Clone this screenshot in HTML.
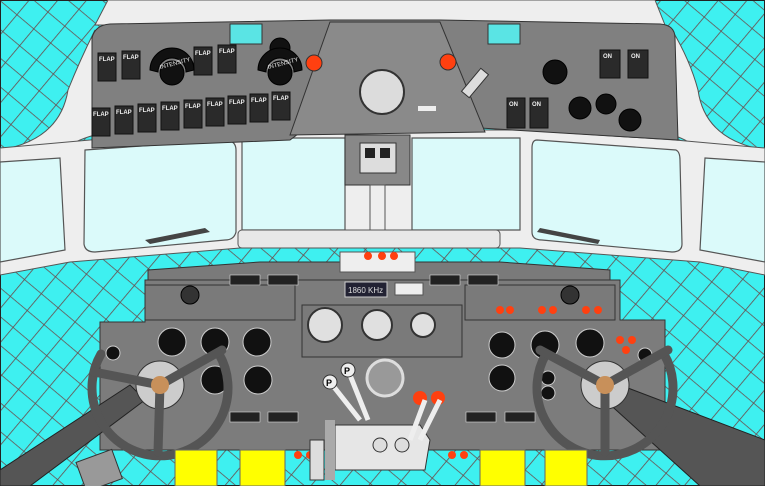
<!DOCTYPE html><html><head><style>html,body{margin:0;padding:0;background:#fff}svg{display:block}</style></head><body>
<svg width="765" height="486" viewBox="0 0 765 486" xmlns="http://www.w3.org/2000/svg" font-family="Liberation Sans, sans-serif">
<defs>
<pattern id="net" width="22" height="22" patternUnits="userSpaceOnUse" patternTransform="rotate(40)">
<rect width="22" height="22" fill="#3ef0f0"/>
<path d="M0 0H22M0 0V22" stroke="#6b4a4a" stroke-width="1.6" fill="none"/>
</pattern>
</defs>
<rect width="765" height="486" fill="url(#net)"/>
<rect x="0" y="0" width="765" height="486" fill="none" stroke="#222" stroke-width="2"/>
<path d="M108 0H655 L665 25 H95 Z" fill="#eeeeee" stroke="#555"/>
<path d="M0 150 L60 152 Q75 140 95 135 L95 30 Q80 60 68 90 Q60 140 0 150Z" fill="#eeeeee" stroke="#555"/>
<path d="M765 150 L700 152 Q690 140 672 135 L672 30 Q690 60 698 90 Q705 140 765 150Z" fill="#eeeeee" stroke="#555"/>
<path d="M0 148 L90 140 L240 130 L520 130 L675 140 L765 148 L765 275 L700 262 L520 248 L240 248 L70 262 L0 275Z" fill="#eeeeee" stroke="#555"/>
<g fill="#dbfafa" stroke="#555" stroke-width="1.2">
<path d="M0 162 L60 158 L65 250 L0 262Z"/>
<path d="M85 150 L228 140 Q236 142 236 150 L236 232 Q234 240 225 240 L95 252 Q85 252 84 244Z"/>
<path d="M242 138 L345 138 L345 230 L242 230 Z" />
<path d="M412 138 L520 138 L520 230 L412 230Z"/>
<path d="M537 140 L676 150 Q680 152 680 160 L682 244 Q682 252 672 252 L542 240 Q532 240 532 232 L532 148 Q532 140 537 140Z"/>
<path d="M705 158 L765 162 L765 262 L700 250Z"/>
</g>
<path d="M92 38 Q95 25 110 24 L330 20 L440 20 L660 24 Q675 25 675 38 L678 140 L480 128 L450 110 L330 110 L290 140 L92 148Z" fill="#808080" stroke="#333"/>
<path d="M290 135 L330 22 L440 22 L485 132 Z" fill="#8a8a8a" stroke="#333"/>
<rect x="230" y="24" width="32" height="20" fill="#5ae4e4" stroke="#333"/>
<rect x="488" y="24" width="32" height="20" fill="#5ae4e4" stroke="#333"/>
<circle cx="382" cy="92" r="22" fill="#dcdcdc" stroke="#333" stroke-width="2"/>
<circle cx="314" cy="63" r="8" fill="#ff4010" stroke="#333"/>
<circle cx="448" cy="62" r="8" fill="#ff4010" stroke="#333"/>
<rect x="470" y="68" width="10" height="30" fill="#ddd" stroke="#333" transform="rotate(40 475 83)"/>
<rect x="418" y="106" width="18" height="5" fill="#eee"/>
<g fill="#2a2a2a" stroke="#111">
<rect x="98" y="53" width="18" height="28"/><rect x="122" y="51" width="18" height="28"/>
<rect x="194" y="47" width="18" height="28"/><rect x="218" y="45" width="18" height="28"/>
<rect x="92" y="108" width="18" height="28"/><rect x="115" y="106" width="18" height="28"/>
<rect x="138" y="104" width="18" height="28"/><rect x="161" y="102" width="18" height="28"/>
<rect x="184" y="100" width="18" height="28"/><rect x="206" y="98" width="18" height="28"/>
<rect x="228" y="96" width="18" height="28"/><rect x="250" y="94" width="18" height="28"/>
<rect x="272" y="92" width="18" height="28"/>
<rect x="507" y="98" width="18" height="30"/><rect x="530" y="98" width="18" height="30"/>
<rect x="600" y="50" width="20" height="28"/><rect x="628" y="50" width="20" height="28"/>
</g>
<g font-size="6" fill="#eee" font-weight="bold">
<text x="99" y="61">FLAP</text><text x="123" y="59">FLAP</text><text x="195" y="55">FLAP</text><text x="219" y="53">FLAP</text>
<text x="93" y="116">FLAP</text><text x="116" y="114">FLAP</text><text x="139" y="112">FLAP</text><text x="162" y="110">FLAP</text><text x="185" y="108">FLAP</text><text x="207" y="106">FLAP</text><text x="229" y="104">FLAP</text><text x="251" y="102">FLAP</text><text x="273" y="100">FLAP</text>
<text x="509" y="106">ON</text><text x="532" y="106">ON</text><text x="603" y="58">ON</text><text x="631" y="58">ON</text>
</g>
<g fill="#111" stroke="#000">
<circle cx="172" cy="73" r="12"/><path d="M150 70 A22 22 0 0 1 194 70 L186 72 A14 14 0 0 0 158 72Z"/>
<circle cx="280" cy="48" r="10"/><circle cx="280" cy="73" r="12"/><path d="M258 70 A22 22 0 0 1 302 70 L294 72 A14 14 0 0 0 266 72Z"/>
<circle cx="555" cy="72" r="12"/><circle cx="580" cy="108" r="11"/><circle cx="606" cy="104" r="10"/><circle cx="630" cy="120" r="11"/>
</g>
<text x="160" y="66" font-size="6" fill="#eee" transform="rotate(-15 172 66)">INTENSITY</text>
<text x="268" y="66" font-size="6" fill="#eee" transform="rotate(-15 280 66)">INTENSITY</text>
<rect x="345" y="135" width="65" height="50" fill="#888" stroke="#333"/>
<rect x="360" y="143" width="36" height="30" fill="#ddd" stroke="#333"/>
<rect x="365" y="148" width="10" height="10" fill="#222"/><rect x="380" y="148" width="10" height="10" fill="#222"/>
<rect x="370" y="185" width="15" height="48" fill="#eeeeee" stroke="#555"/>
<rect x="238" y="230" width="262" height="18" rx="4" fill="#e8e8e8" stroke="#555"/>
<path d="M145 240 L205 228 L210 232 L150 244Z M540 228 L600 240 L598 244 L537 232Z" fill="#444"/>
<path d="M148 282 L148 270 L260 262 L500 262 L610 270 L610 282Z" fill="#7a7a7a" stroke="#333"/>
<rect x="340" y="252" width="75" height="20" fill="#eeeeee" stroke="#555"/>
<g fill="#ff4010"><circle cx="368" cy="256" r="4"/><circle cx="382" cy="256" r="4"/><circle cx="394" cy="256" r="4"/></g>
<path d="M145 280 L620 280 L620 320 L665 320 L665 450 L100 450 L100 322 L145 322Z" fill="#7c7c7c" stroke="#333"/>
<rect x="145" y="285" width="150" height="35" fill="#7a7a7a" stroke="#333"/>
<rect x="465" y="285" width="150" height="35" fill="#7a7a7a" stroke="#333"/>
<rect x="302" y="305" width="160" height="52" fill="#7a7a7a" stroke="#333"/>
<rect x="345" y="282" width="42" height="15" fill="#223" stroke="#ccc"/>
<text x="348" y="293" font-size="8" fill="#ddd">1860 KHz</text>
<rect x="395" y="283" width="28" height="12" fill="#eee" stroke="#555"/>
<g fill="#222" stroke="#ddd" stroke-width="0.6">
<rect x="230" y="275" width="30" height="10"/><rect x="268" y="275" width="30" height="10"/><rect x="430" y="275" width="30" height="10"/><rect x="468" y="275" width="30" height="10"/>
<rect x="230" y="412" width="30" height="10"/><rect x="268" y="412" width="30" height="10"/><rect x="466" y="412" width="30" height="10"/><rect x="505" y="412" width="30" height="10"/>
</g>
<circle cx="190" cy="295" r="9" fill="#333" stroke="#000"/><circle cx="570" cy="295" r="9" fill="#333" stroke="#000"/>
<g fill="#e0e0e0" stroke="#333" stroke-width="2">
<circle cx="325" cy="325" r="17"/><circle cx="377" cy="325" r="15"/><circle cx="423" cy="325" r="12"/>
</g>
<circle cx="385" cy="378" r="18" fill="#999" stroke="#ddd" stroke-width="3"/>
<g fill="#111" stroke="#ccc" stroke-width="1">
<circle cx="172" cy="342" r="14"/><circle cx="215" cy="342" r="14"/><circle cx="257" cy="342" r="14"/>
<circle cx="215" cy="380" r="14"/><circle cx="258" cy="380" r="14"/><circle cx="113" cy="353" r="7"/>
<circle cx="502" cy="345" r="13"/><circle cx="545" cy="345" r="14"/><circle cx="590" cy="343" r="14"/>
<circle cx="502" cy="378" r="13"/><circle cx="548" cy="378" r="7"/><circle cx="548" cy="393" r="7"/><circle cx="645" cy="355" r="7"/>
</g>
<g fill="#ff4010"><circle cx="500" cy="310" r="4"/><circle cx="510" cy="310" r="4"/><circle cx="542" cy="310" r="4"/><circle cx="553" cy="310" r="4"/><circle cx="586" cy="310" r="4"/><circle cx="598" cy="310" r="4"/>
<circle cx="620" cy="340" r="4"/><circle cx="632" cy="340" r="4"/><circle cx="626" cy="350" r="4"/>
<circle cx="420" cy="398" r="7"/><circle cx="438" cy="398" r="7"/>
<circle cx="298" cy="455" r="4"/><circle cx="310" cy="455" r="4"/><circle cx="452" cy="455" r="4"/><circle cx="464" cy="455" r="4"/></g>
<path d="M335 425 L420 425 L430 440 L425 470 L335 470Z" fill="#e6e6e6" stroke="#333"/>
<path d="M330 382 L360 420 M348 370 L368 420 M425 400 L410 440 M440 400 L420 440" stroke="#eee" stroke-width="5"/>
<circle cx="330" cy="382" r="7" fill="#eee" stroke="#333"/><circle cx="348" cy="370" r="7" fill="#eee" stroke="#333"/>
<text x="326" y="386" font-size="9" font-weight="bold">P</text><text x="344" y="374" font-size="9" font-weight="bold">P</text>
<circle cx="380" cy="445" r="7" fill="#ddd" stroke="#333"/><circle cx="402" cy="445" r="7" fill="#ddd" stroke="#333"/>
<rect x="325" y="420" width="10" height="60" fill="#aaa"/>
<rect x="310" y="440" width="14" height="40" fill="#ddd" stroke="#333"/>
<path d="M0 470 L130 385 L145 400 L30 486 L0 486Z" fill="#555" stroke="#222"/>
<path d="M765 440 L620 385 L605 400 L700 486 L765 486Z" fill="#555" stroke="#222"/>
<circle cx="160" cy="385" r="24" fill="#ccc" stroke="#333"/>
<circle cx="605" cy="385" r="24" fill="#ccc" stroke="#333"/>
<g fill="none" stroke="#555" stroke-width="9" stroke-linecap="round">
<path d="M101 354 A68 68 0 1 0 219 354"/><path d="M94 372 L160 385 L222 350 M160 385 L158 452"/>
<path d="M546 354 A68 68 0 1 0 664 354"/><path d="M540 350 L605 385 L668 350 M605 385 L605 452"/>
</g>
<circle cx="160" cy="385" r="9" fill="#c8905a"/><circle cx="605" cy="385" r="9" fill="#c8905a"/>
<g fill="#ffff00" stroke="#666">
<rect x="175" y="450" width="42" height="36"/><rect x="240" y="450" width="45" height="36"/>
<rect x="480" y="450" width="45" height="36"/><rect x="545" y="450" width="42" height="36"/>
</g>
<rect x="80" y="455" width="38" height="31" fill="#999" stroke="#333" transform="rotate(-20 99 470)"/>
</svg>
</body></html>
